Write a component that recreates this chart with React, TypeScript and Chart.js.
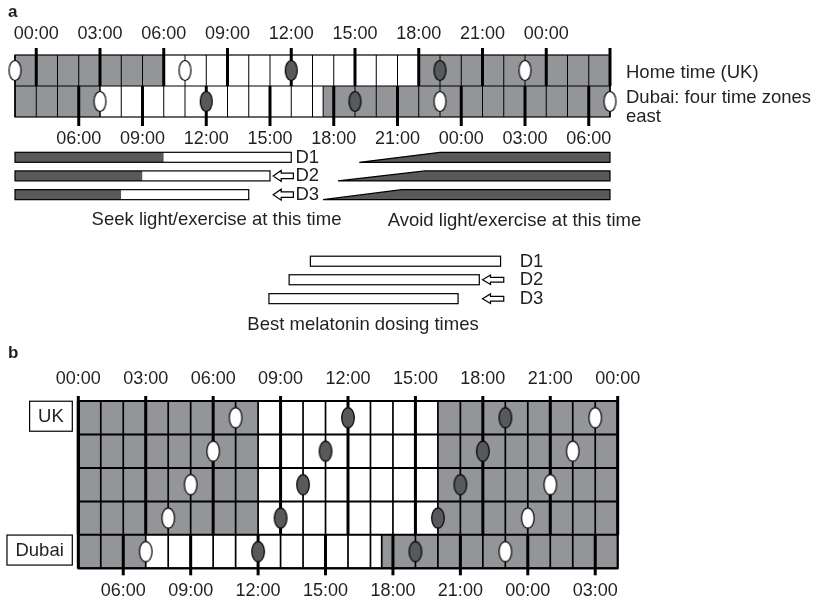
import React, { useEffect, useRef } from 'react';
import { Chart, registerables } from 'chart.js';

Chart.register(...registerables);

// ---------------- Panel a (hours on UK home-time axis; Dubai = UK + 4) ----------------
const A_TOP_TICKS = [0, 3, 6, 9, 12, 15, 18, 21, 24];            // UK labels
const A_BOTTOM_TICKS_DUBAI = [6, 9, 12, 15, 18, 21, 24, 27, 30]; // Dubai labels
const A_HEAVY_UK = [0, 3, 6, 9, 12, 15, 18, 21, 24, 27];
const A_SHADE_UK = [[-1, 6], [18, 27]];
const A_SHADE_DUBAI = [[-1, 3], [13.5, 27]];
const A_WHITE_UK = [-1, 7, 23];
const A_DARK_UK = [12, 19];
const A_WHITE_DUBAI = [3, 19, 27];
const A_DARK_DUBAI = [8, 15];

const DOSE_LABELS = ['D1', 'D2', 'D3'];
const SEEK_START = [-1, -1, -1];
const SEEK_DARK_END = [6, 5, 4];
const SEEK_END = [12, 11, 10];
const AVOID_START = [15.2, 14.2, 13.5];
const AVOID_FULL = [19, 18.3, 17.2];
const AVOID_END = [27, 27, 27];
const MEL_START = [12.9, 11.9, 10.95];
const MEL_END = [21.85, 20.85, 19.85];

// ---------------- Panel b ----------------
const B_TOP_TICKS = [0, 3, 6, 9, 12, 15, 18, 21, 24];
const B_BOTTOM_TICKS_DUBAI = [6, 9, 12, 15, 18, 21, 24, 27];
const B_ROW_LABELS = ['UK', '', '', '', 'Dubai'];
const B_SHADE = [
  [[0, 8], [16, 24]],
  [[0, 8], [16, 24]],
  [[0, 8], [16, 24]],
  [[0, 8], [16, 24]],
  [[0, 3], [13.5, 24]],
];
const B_WHITE = [[7, 23], [6, 22], [5, 21], [4, 20], [3, 19]];
const B_DARK = [[12, 19], [11, 18], [10, 17], [9, 16], [8, 15]];

// ---------------- styles ----------------
const GREY = '#939598';
const DARK = '#58595b';
const INK = '#231f20';
const FONT = '"Liberation Sans", Arial, Helvetica, sans-serif';

const hhmm = (v: number) => String(((v % 24) + 24) % 24).padStart(2, '0') + ':00';

function makeEllipse(fill: string, rx: number, ry: number) {
  const c = document.createElement('canvas');
  const w = Math.ceil(rx * 2 + 3);
  const h = Math.ceil(ry * 2 + 3);
  c.width = w;
  c.height = h;
  const g = c.getContext('2d')!;
  g.beginPath();
  g.ellipse(w / 2, h / 2, rx, ry, 0, 0, Math.PI * 2);
  g.fillStyle = fill;
  g.fill();
  g.lineWidth = 1.2;
  g.strokeStyle = '#000';
  g.stroke();
  return c;
}

function drawGridRow(ctx: CanvasRenderingContext2D, X: (v: number) => number, lo: number, hi: number,
  top: number, bot: number, shade: number[][], thin: number) {
  ctx.fillStyle = '#fff';
  ctx.fillRect(X(lo), top, X(hi) - X(lo), bot - top);
  ctx.fillStyle = GREY;
  shade.forEach(([a, b]) => ctx.fillRect(X(a), top, X(b) - X(a), bot - top));
  ctx.strokeStyle = '#000';
  ctx.lineWidth = thin;
  ctx.beginPath();
  for (let h = Math.ceil(lo); h <= hi; h++) {
    ctx.moveTo(X(h), top);
    ctx.lineTo(X(h), bot);
  }
  shade.forEach(([a, b]) => {
    [a, b].forEach((e) => { ctx.moveTo(X(e), top); ctx.lineTo(X(e), bot); });
  });
  ctx.stroke();
}

function heavy(ctx: CanvasRenderingContext2D, x: number, y0: number, y1: number, w = 3) {
  ctx.lineWidth = w;
  ctx.strokeStyle = '#000';
  ctx.beginPath();
  ctx.moveTo(x, y0);
  ctx.lineTo(x, y1);
  ctx.stroke();
}

function arrow(ctx: CanvasRenderingContext2D, xl: number, xr: number, yc: number, h: number) {
  const hw = Math.min(8, (xr - xl) * 0.45);
  ctx.beginPath();
  ctx.moveTo(xl, yc);
  ctx.lineTo(xl + hw, yc - h / 2);
  ctx.lineTo(xl + hw, yc - h / 4);
  ctx.lineTo(xr, yc - h / 4);
  ctx.lineTo(xr, yc + h / 4);
  ctx.lineTo(xl + hw, yc + h / 4);
  ctx.lineTo(xl + hw, yc + h / 2);
  ctx.closePath();
  ctx.fillStyle = '#fff';
  ctx.fill();
  ctx.lineWidth = 1.2;
  ctx.strokeStyle = '#000';
  ctx.stroke();
}

function text(ctx: CanvasRenderingContext2D, s: string, x: number, y: number, align: CanvasTextAlign = 'left',
  baseline: CanvasTextBaseline = 'alphabetic', size = 18, weight = 'normal') {
  ctx.font = `${weight} ${size}px ${FONT}`;
  ctx.fillStyle = INK;
  ctx.textAlign = align;
  ctx.textBaseline = baseline;
  ctx.fillText(s, x, y);
}

// layout (rows of panel a are y-scale units; 1 unit = one grid row)
const A_SEEK_Y = [3.3, 3.9, 4.505];
const A_MEL_Y = [6.652, 7.25, 7.86];
const BAR_HALF = 5;

const panelAPlugin = {
  id: 'panelA',
  beforeDatasetsDraw(chart: any) {
    const ctx: CanvasRenderingContext2D = chart.ctx;
    const xs = chart.scales.xTop, xd = chart.scales.xBot, ys = chart.scales.y;
    const X = (v: number) => xs.getPixelForValue(v);
    const Y = (v: number) => ys.getPixelForValue(v);
    const lo = xs.min, hi = xs.max;
    ctx.save();
    [A_SHADE_UK, A_SHADE_DUBAI].forEach((shade, r) =>
      drawGridRow(ctx, X, lo, hi, Y(r), Y(r + 1), shade, 1));
    ctx.lineWidth = 1.2;
    ctx.strokeStyle = '#000';
    ctx.strokeRect(X(lo), Y(0), X(hi) - X(lo), Y(2) - Y(0));
    ctx.beginPath(); ctx.moveTo(X(lo), Y(1)); ctx.lineTo(X(hi), Y(1)); ctx.stroke();
    A_HEAVY_UK.forEach((h) => heavy(ctx, X(h), Y(0) - 7, Y(1)));
    A_BOTTOM_TICKS_DUBAI.forEach((h) => heavy(ctx, xd.getPixelForValue(h), Y(1), Y(2) + 9));

    // seek light bars
    DOSE_LABELS.forEach((lab, i) => {
      const yc = Y(A_SEEK_Y[i]);
      const t = yc - BAR_HALF, hgt = BAR_HALF * 2;
      ctx.fillStyle = DARK;
      ctx.fillRect(X(SEEK_START[i]), t, X(SEEK_DARK_END[i]) - X(SEEK_START[i]), hgt);
      ctx.fillStyle = '#fff';
      ctx.fillRect(X(SEEK_DARK_END[i]), t, X(SEEK_END[i]) - X(SEEK_DARK_END[i]), hgt);
      ctx.lineWidth = 1.2;
      ctx.strokeStyle = '#000';
      ctx.strokeRect(X(SEEK_START[i]), t, X(SEEK_END[i]) - X(SEEK_START[i]), hgt);
      // avoid wedge
      ctx.beginPath();
      ctx.moveTo(X(AVOID_START[i]), yc + BAR_HALF);
      ctx.lineTo(X(AVOID_FULL[i]), yc - BAR_HALF);
      ctx.lineTo(X(AVOID_END[i]), yc - BAR_HALF);
      ctx.lineTo(X(AVOID_END[i]), yc + BAR_HALF);
      ctx.closePath();
      ctx.fillStyle = DARK;
      ctx.fill();
      ctx.stroke();
      if (i > 0) arrow(ctx, X(11.15), X(12.1), yc, 11);
      text(ctx, lab, X(12.2), yc + 0.5, 'left', 'middle', 18.5);
      // melatonin bars
      const ym = Y(A_MEL_Y[i]);
      ctx.fillStyle = '#fff';
      ctx.fillRect(X(MEL_START[i]), ym - BAR_HALF, X(MEL_END[i]) - X(MEL_START[i]), hgt);
      ctx.lineWidth = 1.2;
      ctx.strokeStyle = '#000';
      ctx.strokeRect(X(MEL_START[i]), ym - BAR_HALF, X(MEL_END[i]) - X(MEL_START[i]), hgt);
      if (i > 0) arrow(ctx, X(21.0), X(22.0), ym, 9.5);
      text(ctx, lab, X(22.75), ym + 0.5, 'left', 'middle', 18.5);
    });
    ctx.restore();
  },
  afterDraw(chart: any) {
    const ctx: CanvasRenderingContext2D = chart.ctx;
    ctx.save();
    text(ctx, 'a', 8, 17, 'left', 'alphabetic', 17, 'bold');
    text(ctx, 'Home time (UK)', 626, 78, 'left', 'alphabetic', 18.5);
    text(ctx, 'Dubai: four time zones', 626, 103, 'left', 'alphabetic', 18.5);
    text(ctx, 'east', 626, 122, 'left', 'alphabetic', 18.5);
    text(ctx, 'Seek light/exercise at this time', 216.5, 220, 'center', 'middle', 18.5);
    text(ctx, 'Avoid light/exercise at this time', 514.5, 221, 'center', 'middle', 18.5);
    text(ctx, 'Best melatonin dosing times', 363, 325, 'center', 'middle', 18.5);
    ctx.restore();
  },
};

const panelBPlugin = {
  id: 'panelB',
  beforeDatasetsDraw(chart: any) {
    const ctx: CanvasRenderingContext2D = chart.ctx;
    const xs = chart.scales.xTop, xd = chart.scales.xBot, ys = chart.scales.y;
    const X = (v: number) => xs.getPixelForValue(v);
    const Y = (v: number) => ys.getPixelForValue(v);
    const lo = xs.min, hi = xs.max;
    ctx.save();
    B_SHADE.forEach((shade, r) => drawGridRow(ctx, X, lo, hi, Y(r), Y(r + 1), shade, 1.7));
    ctx.lineWidth = 2;
    ctx.strokeStyle = '#000';
    ctx.beginPath();
    for (let r = 0; r <= B_SHADE.length; r++) { ctx.moveTo(X(lo), Y(r)); ctx.lineTo(X(hi), Y(r)); }
    ctx.stroke();
    ctx.strokeRect(X(lo), Y(0), X(hi) - X(lo), Y(5) - Y(0));
    B_TOP_TICKS.forEach((h) => heavy(ctx, X(h), Y(0) - 5, Y(4), 3));
    heavy(ctx, X(lo), Y(0), Y(5), 3);
    B_BOTTOM_TICKS_DUBAI.forEach((h) => heavy(ctx, xd.getPixelForValue(h), Y(4), Y(5) + 7, 3));
    ctx.restore();
  },
  afterDraw(chart: any) {
    const ctx: CanvasRenderingContext2D = chart.ctx;
    const ys = chart.scales.y;
    ctx.save();
    text(ctx, 'b', 8, 17.5, 'left', 'alphabetic', 17, 'bold');
    B_ROW_LABELS.forEach((lab, r) => {
      if (!lab) return;
      ctx.font = `18.5px ${FONT}`;
      const w = ctx.measureText(lab).width + 17;
      const right = 72.3;
      const yc = (ys.getPixelForValue(r) + ys.getPixelForValue(r + 1)) / 2 - 1.5;
      const bh = 30;
      ctx.fillStyle = '#fff';
      ctx.fillRect(right - w, yc - bh / 2, w, bh);
      ctx.lineWidth = 1.2;
      ctx.strokeStyle = '#000';
      ctx.strokeRect(right - w, yc - bh / 2, w, bh);
      text(ctx, lab, right - w / 2, yc + 0.5, 'center', 'middle', 18.5);
    });
    ctx.restore();
  },
};

function xAxis(position: 'top' | 'bottom', min: number, max: number, ticks: number[], height: number, padding: number) {
  return {
    type: 'linear',
    position,
    min,
    max,
    grid: { display: false, drawTicks: false },
    border: { display: false },
    afterBuildTicks: (s: any) => { s.ticks = ticks.map((v) => ({ value: v })); },
    afterFit: (s: any) => { s.height = height; },
    ticks: {
      font: { family: FONT, size: 18 },
      color: INK,
      padding,
      autoSkip: false,
      maxRotation: 0,
      minRotation: 0,
      callback: (v: number) => hhmm(v),
    },
  };
}

function pts(xs: number[], y: number) {
  return xs.map((x) => ({ x, y }));
}

export default function App() {
  const refA = useRef<HTMLCanvasElement>(null);
  const refB = useRef<HTMLCanvasElement>(null);

  useEffect(() => {
    const wA = makeEllipse('#fff', 6, 10);
    const dA = makeEllipse(DARK, 6, 10);
    const wB = makeEllipse('#fff', 6.3, 10.2);
    const dB = makeEllipse(DARK, 6.3, 10.2);
    const common = { xAxisID: 'xTop', yAxisID: 'y', pointRadius: 6, clip: false as const, showLine: false };

    const chartA = new Chart(refA.current!, {
      type: 'scatter',
      data: {
        datasets: [
          { ...common, data: pts(A_WHITE_UK, 0.5), pointStyle: wA },
          { ...common, data: pts(A_DARK_UK, 0.5), pointStyle: dA },
          { ...common, data: pts(A_WHITE_DUBAI, 1.5), pointStyle: wA },
          { ...common, data: pts(A_DARK_DUBAI, 1.5), pointStyle: dA },
        ] as any,
      },
      options: {
        animation: false,
        responsive: false,
        devicePixelRatio: 1,
        events: [],
        layout: { padding: { left: 15, right: 204, top: 0, bottom: 0 } },
        plugins: { legend: { display: false }, tooltip: { enabled: false } },
        scales: {
          xTop: xAxis('top', -1, 27, A_TOP_TICKS, 55, 10),
          xBot: xAxis('bottom', 3, 31, A_BOTTOM_TICKS_DUBAI, 340 - 117, 11),
          y: { type: 'linear', min: 0, max: 2, reverse: true, display: false },
        } as any,
      },
      plugins: [panelAPlugin],
    });

    const dsB: any[] = [];
    B_WHITE.forEach((row, r) => dsB.push({ ...common, data: pts(row, r + 0.5), pointStyle: wB }));
    B_DARK.forEach((row, r) => dsB.push({ ...common, data: pts(row, r + 0.5), pointStyle: dB }));

    const chartB = new Chart(refB.current!, {
      type: 'scatter',
      data: { datasets: dsB },
      options: {
        animation: false,
        responsive: false,
        devicePixelRatio: 1,
        events: [],
        layout: { padding: { left: 78.3, right: 814 - 617.7, top: 0, bottom: 0 } },
        plugins: { legend: { display: false }, tooltip: { enabled: false } },
        scales: {
          xTop: xAxis('top', 0, 24, B_TOP_TICKS, 61, 11.4),
          xBot: xAxis('bottom', 4, 28, B_BOTTOM_TICKS_DUBAI, 262 - 228.3, 11.9),
          y: { type: 'linear', min: 0, max: 5, reverse: true, display: false },
        } as any,
      },
      plugins: [panelBPlugin],
    });

    return () => {
      chartA.destroy();
      chartB.destroy();
    };
  }, []);

  return (
    <div style={{ position: 'absolute', left: 0, top: 0, width: 814, height: 602, background: '#fff' }}>
      <canvas ref={refA} width={814} height={340}
        style={{ position: 'absolute', left: 0, top: 0, width: 814, height: 340 }} />
      <canvas ref={refB} width={814} height={262}
        style={{ position: 'absolute', left: 0, top: 340, width: 814, height: 262 }} />
    </div>
  );
}
